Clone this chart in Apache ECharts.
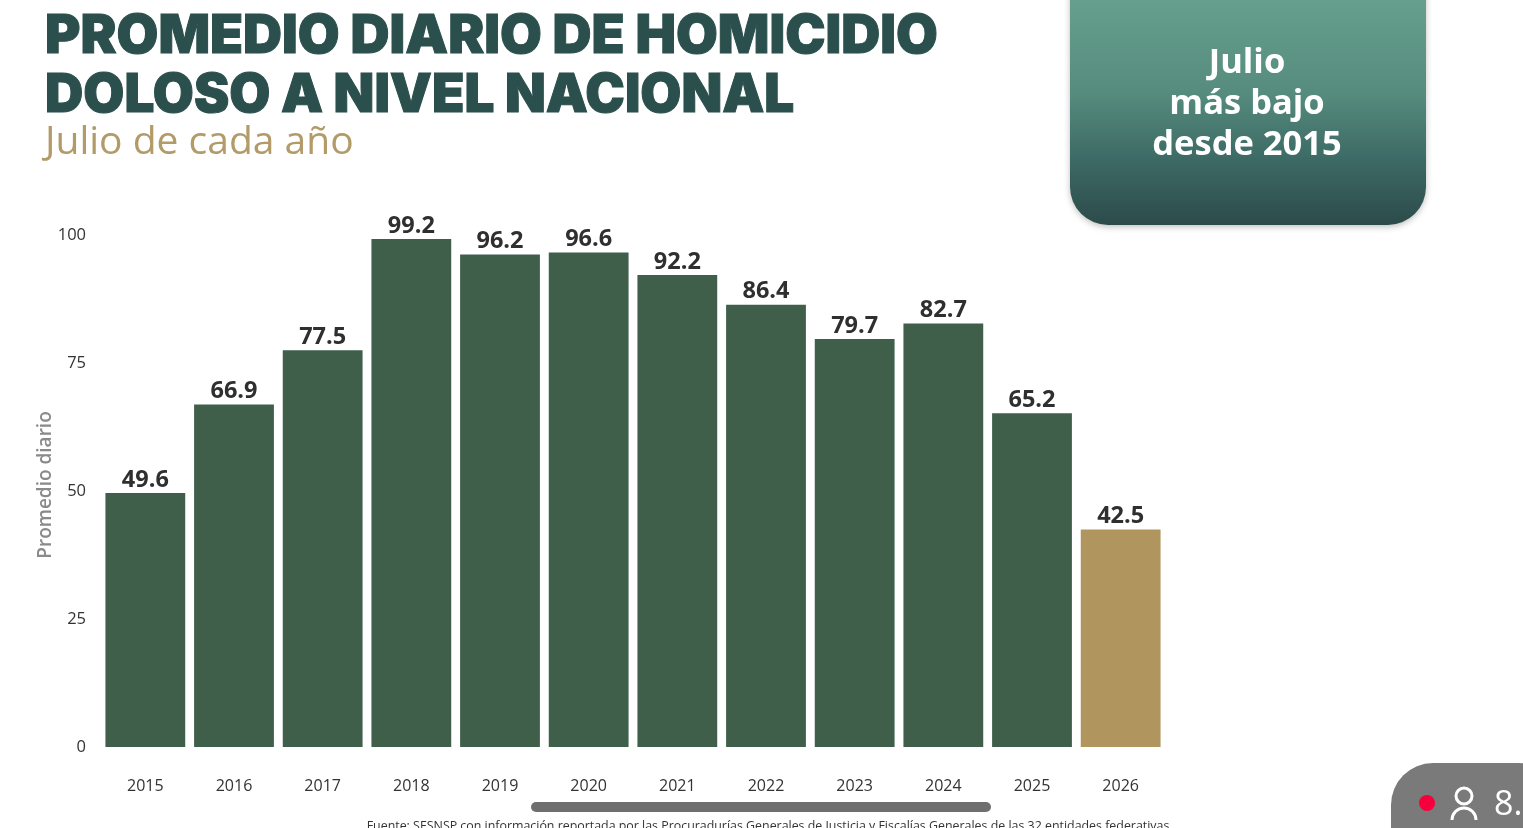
<!DOCTYPE html>
<html><head><meta charset="utf-8">
<style>html,body{margin:0;padding:0;background:#fff}#c{width:1523px;height:828px}</style>
<script src="https://cdn.jsdelivr.net/npm/echarts@6/dist/echarts.min.js"></script>
</head><body><div id="c"></div>
<script>
const categories = ['2015','2016','2017','2018','2019','2020','2021','2022','2023','2024','2025','2026'];
const values = [49.6,66.9,77.5,99.2,96.2,96.6,92.2,86.4,79.7,82.7,65.2,42.5];
const yTicks = [0,25,50,75,100];
const GREEN = '#3f5f4b', GOLD = '#b0965e';
const chart = echarts.init(document.getElementById('c'));
const sans = '"Open Sans", sans-serif';
chart.setOption({
  animation:false,
  backgroundColor:'#fff',
  grid:{left:101,top:235,width:1064,height:512},
  xAxis:{type:'category',data:categories,axisLine:{show:false},axisTick:{show:false},
    axisLabel:{color:'#333',fontFamily:sans,fontSize:16,margin:31}},
  yAxis:{type:'value',min:0,max:100,interval:25,
    name:'Promedio diario',nameLocation:'middle',nameGap:46,nameMoveOverlap:false,
    nameTextStyle:{color:'#8a8a8a',fontFamily:sans,fontSize:19,fontWeight:600,padding:[0,0,0,12]},
    axisLine:{show:false},axisTick:{show:false},splitLine:{show:false},
    axisLabel:{color:'#333',fontFamily:sans,fontSize:16.5,margin:15,
      formatter:v=>yTicks.includes(v)?String(v):''}},
  series:[{type:'bar',barWidth:'90%',
    data:values.map((v,i)=>({value:v,itemStyle:{color:i===values.length-1?GOLD:GREEN}})),
    label:{show:true,position:'top',distance:1,color:'#2f2f2f',fontFamily:sans,fontSize:23.5,fontWeight:700,
      formatter:p=>p.value.toFixed(1)}}],
  graphic:[
    {type:'text',x:45,y:37,style:{text:'PROMEDIO DIARIO DE HOMICIDIO',fill:'#2a4f4c',stroke:'#2a4f4c',lineWidth:1,font:'900 54px Inter, sans-serif',verticalAlign:'middle'}},
    {type:'text',x:45,y:96,style:{text:'DOLOSO A NIVEL NACIONAL',fill:'#2a4f4c',stroke:'#2a4f4c',lineWidth:1,font:'900 53px Inter, sans-serif',verticalAlign:'middle'}},
    {type:'text',left:45,top:123,style:{text:'Julio de cada año',fill:'#b39b69',font:'400 39px "Open Sans", sans-serif'}},
    {type:'rect',shape:{x:1070,y:-40,width:356,height:265,r:[0,0,38,38]},
      style:{fill:new echarts.graphic.LinearGradient(0,0,0,1,[{offset:0.15,color:'#669f8e'},{offset:0.5,color:'#568c7e'},{offset:0.75,color:'#3d6a65'},{offset:1,color:'#2c4b4b'}]),
        shadowBlur:6,shadowColor:'rgba(0,0,0,0.25)',shadowOffsetY:2}},
    {type:'text',x:1247,y:63,style:{text:'Julio',fill:'#fff',font:'700 34.5px "Open Sans", sans-serif',align:'center',verticalAlign:'middle'}},
    {type:'text',x:1247,y:104,style:{text:'más bajo',fill:'#fff',font:'700 34.5px "Open Sans", sans-serif',align:'center',verticalAlign:'middle'}},
    {type:'text',x:1247,y:145,style:{text:'desde 2015',fill:'#fff',font:'700 34.5px "Open Sans", sans-serif',align:'center',verticalAlign:'middle'}},
    {type:'rect',shape:{x:531,y:802,width:460,height:10,r:5},style:{fill:'#6f6f6f'}},
    {type:'text',x:768,y:820,style:{text:'Fuente: SESNSP con información reportada por las Procuradurías Generales de Justicia y Fiscalías Generales de las 32 entidades federativas',
      fill:'#333',font:'400 12.4px "Open Sans", sans-serif',align:'center',verticalAlign:'top'}},
    {type:'rect',shape:{x:1391,y:763,width:170,height:110,r:42},style:{fill:'#7a7a7a'}},
    {type:'circle',shape:{cx:1427,cy:803,r:8},style:{fill:'#f5003c'}},
    {type:'circle',shape:{cx:1464,cy:796,r:8},style:{fill:'none',stroke:'#fff',lineWidth:3}},
    {type:'arc',shape:{cx:1464,cy:820,r:12,startAngle:Math.PI,endAngle:2*Math.PI},style:{fill:'none',stroke:'#fff',lineWidth:3}},
    {type:'text',x:1494,y:805,style:{text:'8.',fill:'#fff',font:'400 34px "Open Sans", sans-serif',verticalAlign:'middle'}}
  ]
});
</script></body></html>
